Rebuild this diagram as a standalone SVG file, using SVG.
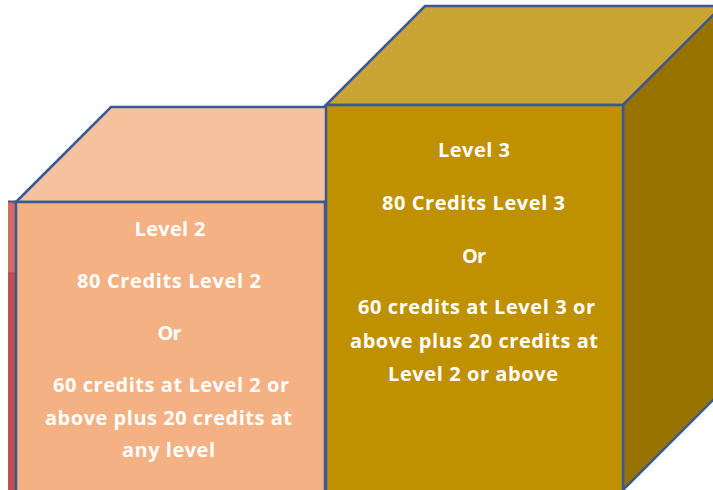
<svg xmlns="http://www.w3.org/2000/svg" width="713" height="490" viewBox="0 0 713 490">
<style>
.edge{stroke:#3A5894;stroke-width:2.5;stroke-linejoin:miter}
.t{font-family:"Open Sans","Liberation Sans",sans-serif;font-weight:bold;font-size:20px;fill:#FFFFFF;text-anchor:middle}
</style>
<rect width="713" height="490" fill="#FFFFFF"/>
<g id="level1-sliver">
<rect x="8" y="201" width="8" height="72" fill="#D46B6B"/>
<rect x="8" y="273" width="8" height="220" fill="#C0504D"/>
<line x1="8" y1="273" x2="16" y2="273" stroke="#A84444" stroke-width="1"/>
<line x1="8" y1="201.5" x2="16" y2="201.5" stroke="#3A5894" stroke-width="2"/>
</g>
<g id="level2">
<polygon class="edge" points="16,202 111,107 420,107 325,202" fill="#F6C29E"/>
<rect class="edge" x="16" y="202" width="309" height="295" fill="#F4B183"/>
<text class="t" x="170" y="236" textLength="71" lengthAdjust="spacing">Level 2</text>
<text class="t" x="169" y="288" textLength="184" lengthAdjust="spacing">80 Credits Level 2</text>
<text class="t" x="169.5" y="340" textLength="24" lengthAdjust="spacing">Or</text>
<text class="t" x="171" y="392" textLength="236" lengthAdjust="spacing">60 credits at Level 2 or</text>
<text class="t" x="168.5" y="424.5" textLength="247" lengthAdjust="spacing">above plus 20 credits at</text>
<text class="t" x="168.5" y="457" textLength="93" lengthAdjust="spacing">any level</text>
</g>
<g id="level3">
<polygon class="edge" points="326,105 425,6 724,6 623,105" fill="#C9A433"/>
<polygon class="edge" points="623,105 724,4 724,389 623,490" fill="#997300"/>
<rect class="edge" x="326" y="105" width="297" height="392" fill="#BF9000"/>
<text class="t" x="474" y="157" textLength="72" lengthAdjust="spacing">Level 3</text>
<text class="t" x="473.5" y="210" textLength="183" lengthAdjust="spacing">80 Credits Level 3</text>
<text class="t" x="474" y="262.5" textLength="24" lengthAdjust="spacing">Or</text>
<text class="t" x="476.5" y="314" textLength="237" lengthAdjust="spacing">60 credits at Level 3 or</text>
<text class="t" x="474" y="347.5" textLength="248" lengthAdjust="spacing">above plus 20 credits at</text>
<text class="t" x="473" y="380.5" textLength="170" lengthAdjust="spacing">Level 2 or above</text>
</g>
<g id="connectors"></g>
</svg>
